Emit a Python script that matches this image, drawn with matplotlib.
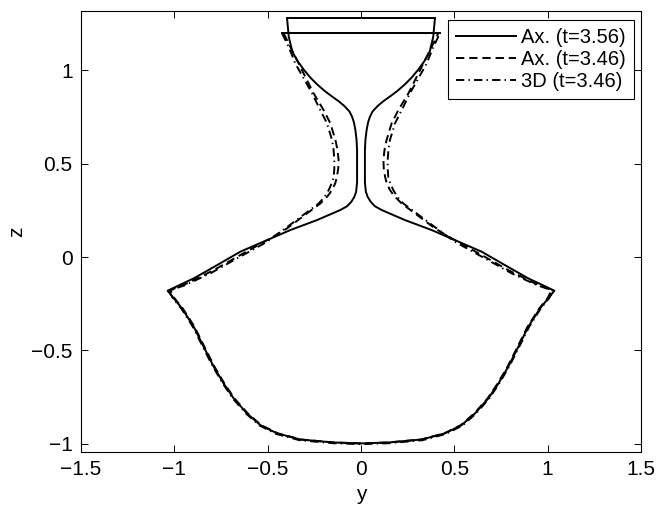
"""Axisymmetric vs 3D interface profiles (y-z section) at late times."""

import matplotlib

matplotlib.use("Agg")

import matplotlib.pyplot as plt
import numpy as np

# half-profiles (radius r >= 0, height z), from the bottom pole up to the rim
R_AX_356 = [0.0, 0.146, 0.325, 0.450, 0.539, 0.611, 0.682, 0.736, 0.789, 0.843,
            0.896, 0.959, 1.003, 1.036,
            0.896, 0.771, 0.646, 0.503, 0.378, 0.236, 0.111, 0.075, 0.052, 0.036,
            0.026, 0.021, 0.021, 0.024, 0.030, 0.038, 0.048, 0.062, 0.090, 0.120,
            0.155, 0.195, 0.235, 0.270, 0.305, 0.340, 0.368, 0.387, 0.396]
Z_AX_356 = [-0.998, -0.993, -0.977, -0.944, -0.900, -0.837, -0.757, -0.677, -0.587, -0.480,
            -0.373, -0.275, -0.221, -0.180,
            -0.114, -0.043, 0.029, 0.091, 0.145, 0.198, 0.252, 0.272, 0.296, 0.322,
            0.350, 0.400, 0.573, 0.630, 0.680, 0.722, 0.752, 0.780, 0.810, 0.835,
            0.860, 0.890, 0.925, 0.960, 1.002, 1.050, 1.100, 1.180, 1.278]

R_AX_346 = [0.0, 0.146, 0.322, 0.446, 0.535, 0.607, 0.678, 0.732, 0.785, 0.839,
            0.892, 0.955, 0.999, 1.021,
            0.932, 0.789, 0.646, 0.486, 0.396, 0.325, 0.218, 0.180, 0.155, 0.138,
            0.129, 0.122, 0.120, 0.126, 0.137, 0.164, 0.200, 0.254, 0.334, 0.370,
            0.414]
Z_AX_346 = [-0.998, -0.993, -0.977, -0.944, -0.900, -0.837, -0.757, -0.677, -0.587, -0.480,
            -0.373, -0.275, -0.221, -0.177,
            -0.141, -0.070, 0.011, 0.100, 0.154, 0.207, 0.287, 0.325, 0.359, 0.395,
            0.430, 0.475, 0.520, 0.575, 0.627, 0.716, 0.787, 0.877, 1.037, 1.109,
            1.198]

R_3D_346 = [0.0, 0.148, 0.329, 0.455, 0.544, 0.616, 0.687, 0.741, 0.794, 0.848,
            0.901, 0.963, 1.007, 1.030,
            0.941, 0.807, 0.664, 0.503, 0.405, 0.334, 0.227, 0.195, 0.173, 0.157,
            0.146, 0.143, 0.143, 0.147, 0.155, 0.182, 0.218, 0.262, 0.307, 0.352,
            0.387, 0.423]
Z_3D_346 = [-1.002, -0.997, -0.981, -0.947, -0.902, -0.838, -0.757, -0.676, -0.586, -0.479,
            -0.373, -0.275, -0.221, -0.180,
            -0.150, -0.087, -0.007, 0.082, 0.154, 0.207, 0.287, 0.322, 0.359, 0.395,
            0.430, 0.475, 0.520, 0.575, 0.627, 0.716, 0.787, 0.877, 0.957, 1.037,
            1.125, 1.198]

LABELS = ["Ax. (t=3.56)", "Ax. (t=3.46)", "3D (t=3.46)"]
STYLES = ["-", (0, (6, 3.5)), (0, (6, 3, 1, 3))]

X_TICKS = [-1.5, -1, -0.5, 0, 0.5, 1, 1.5]
Y_TICKS = [-1, -0.5, 0, 0.5, 1]


def section_sides(r, z):
    """Mirror a half-profile about the axis: left rim -> bottom pole -> right rim."""
    r = np.asarray(r, float)
    z = np.asarray(z, float)
    return np.concatenate([-r[::-1], r[1:]]), np.concatenate([z[::-1], z[1:]])


def fmt(ticks):
    return [f"{t:g}".replace("-", "\u2212") for t in ticks]


def main():
    plt.rcParams["font.family"] = ["Liberation Sans", "DejaVu Sans"]
    plt.rcParams["lines.scale_dashes"] = False
    fig = plt.figure(figsize=(6.61, 5.11), dpi=100)
    ax = fig.add_axes([81 / 661, 59 / 511, 560 / 661, 441 / 511])

    profiles = [(R_AX_356, Z_AX_356), (R_AX_346, Z_AX_346), (R_3D_346, Z_3D_346)]
    for (r, z), label, ls in zip(profiles, LABELS, STYLES):
        y, zz = section_sides(r, z)
        ax.plot(y, zz, color="k", lw=1.4, ls=ls, label=label, solid_joinstyle="round")
        # the rim closing each section shows up as a continuous line
        ax.plot([-r[-1], r[-1]], [z[-1], z[-1]], color="k", lw=1.4)

    ax.set_xlim(-1.5, 1.5)
    ax.set_ylim(-1.044, 1.318)
    ax.set_xticks(X_TICKS)
    ax.set_xticklabels(fmt(X_TICKS))
    ax.set_yticks(Y_TICKS)
    ax.set_yticklabels(fmt(Y_TICKS))
    ax.tick_params(direction="in", top=True, right=True, length=5, width=0.7,
                   labelsize=15, pad=6)
    for s in ax.spines.values():
        s.set_linewidth(0.8)
    ax.set_xlabel("y", fontsize=15)
    ax.set_ylabel("z", fontsize=15)

    leg = ax.legend(loc="upper right", bbox_to_anchor=(0.9875, 0.9796), borderaxespad=0,
                    fontsize=14.5, frameon=True, fancybox=False, edgecolor="k",
                    framealpha=1, handlelength=3.0, handletextpad=0.25,
                    labelspacing=0.15, borderpad=0.4)
    leg.get_frame().set_linewidth(0.8)

    fig.savefig("out.png", dpi=100)


if __name__ == "__main__":
    main()
